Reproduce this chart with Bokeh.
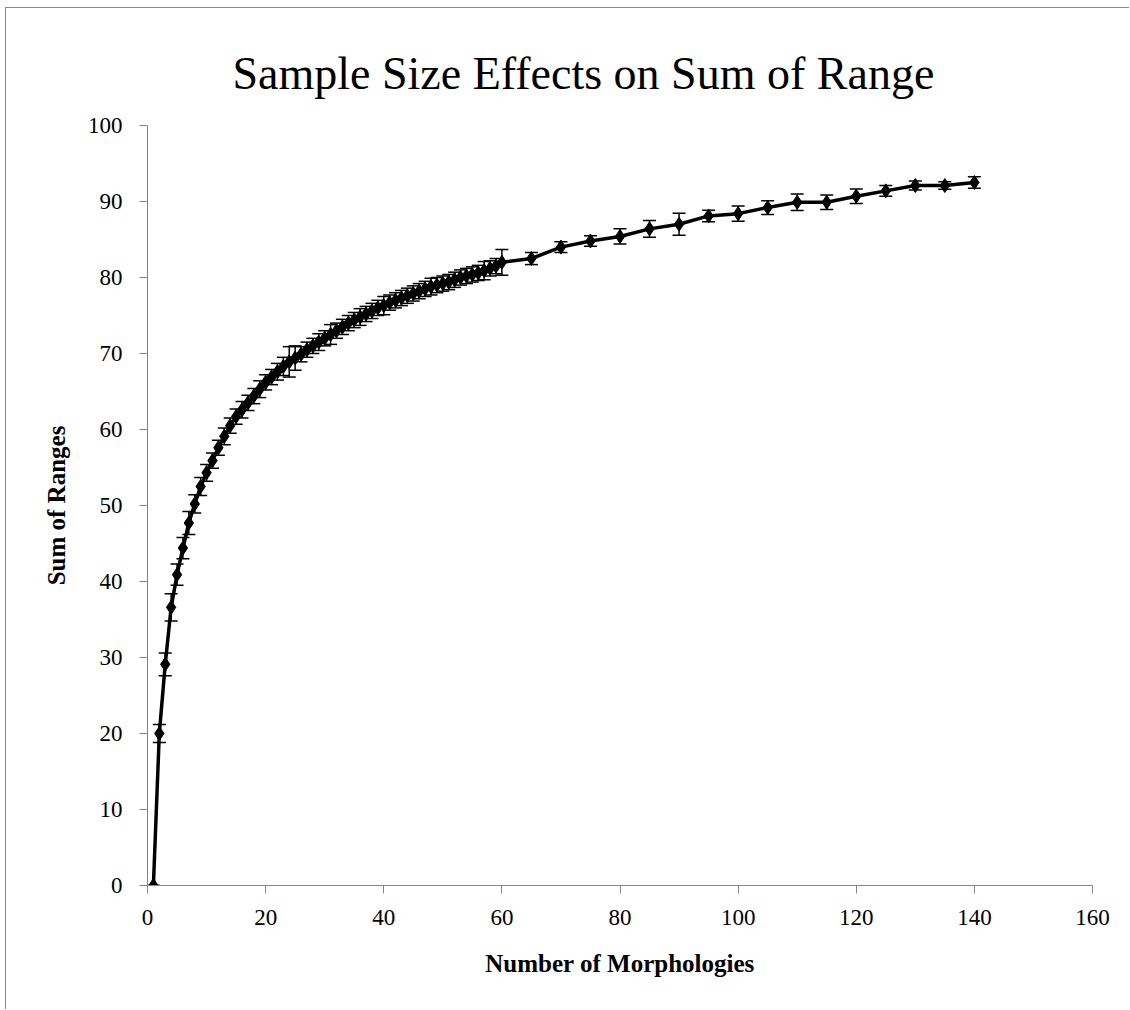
from bokeh.plotting import figure
from bokeh.models import ColumnDataSource, Whisker, Range1d, FixedTicker, TeeHead
from bokeh.embed import file_html
from bokeh.resources import INLINE

morphologies = list(range(1, 61)) + [65, 70, 75, 80, 85, 90, 95, 100, 105, 110, 115, 120, 125, 130, 135, 140]
sum_of_ranges = [
    0.0, 20.0, 29.1, 36.6, 40.9, 44.4, 47.7, 50.2, 52.5, 54.3,
    55.9, 57.6, 59.1, 60.5, 61.7, 62.6, 63.5, 64.4, 65.3, 66.2,
    66.9, 67.6, 68.3, 68.9, 69.4, 69.9, 70.5, 71.0, 71.5, 72.0,
    72.5, 73.0, 73.5, 74.0, 74.4, 74.8, 75.2, 75.6, 76.0, 76.3,
    76.7, 77.0, 77.3, 77.6, 77.9, 78.2, 78.5, 78.8, 79.0, 79.2,
    79.4, 79.7, 80.0, 80.2, 80.4, 80.6, 80.9, 81.2, 81.5, 82.0,
    82.5, 84.0, 84.8, 85.4, 86.4, 87.0, 88.1, 88.4, 89.2, 89.9,
    89.9, 90.7, 91.4, 92.1, 92.1, 92.5,
]
errors = [
    0.0, 1.2, 1.5, 1.8, 1.4, 1.4, 1.5, 1.2, 1.2, 1.1,
    1.0, 1.0, 1.1, 1.0, 1.0, 1.1, 1.0, 1.0, 1.1, 1.0,
    1.0, 1.1, 1.2, 2.0, 1.6, 1.0, 1.0, 1.0, 1.1, 1.0,
    1.3, 1.0, 1.0, 1.0, 1.0, 1.1, 1.0, 1.0, 1.0, 1.2,
    1.0, 1.0, 1.0, 1.0, 1.0, 1.0, 1.0, 1.1, 1.0, 1.0,
    1.0, 1.0, 1.0, 1.0, 1.0, 1.0, 1.2, 1.0, 1.0, 1.7,
    0.8, 0.7, 0.7, 1.0, 1.1, 1.45, 0.75, 1.0, 0.9, 1.1,
    0.95, 0.95, 0.7, 0.6, 0.5, 0.75,
]
x_ticks = [0, 20, 40, 60, 80, 100, 120, 140, 160]
y_ticks = [0, 10, 20, 30, 40, 50, 60, 70, 80, 90, 100]

title_text = "Sample Size Effects on Sum of Range"
x_label = "Number of Morphologies"
y_label = "Sum of Ranges"

upper = [v + e for v, e in zip(sum_of_ranges, errors)]
lower = [v - e for v, e in zip(sum_of_ranges, errors)]
src = ColumnDataSource(dict(x=morphologies, y=sum_of_ranges, upper=upper, lower=lower))

SERIF = "Liberation Serif"
AXIS_COLOR = "#868686"

p = figure(width=1124, height=1002, output_backend="svg", toolbar_location=None,
           x_range=Range1d(0, 160), y_range=Range1d(0, 100),
           min_border_left=141, min_border_right=38, min_border_top=117, min_border_bottom=125)
p.styles = {"margin-left": "5px", "margin-top": "7px",
            "border-left": "1px solid #8a8a8a", "border-top": "1px solid #8a8a8a"}

p.title.text = title_text
p.title.text_font = SERIF
p.title.text_font_size = "46px"
p.title.text_font_style = "normal"
p.title.text_color = "#000000"
p.title.align = "left"
p.title.offset = 85
p.title.standoff = 53

p.outline_line_color = None
p.grid.grid_line_color = None

for ax in (p.xaxis[0], p.yaxis[0]):
    ax.axis_line_color = AXIS_COLOR
    ax.major_tick_line_color = AXIS_COLOR
    ax.minor_tick_line_color = None
    ax.major_tick_out = 8
    ax.major_tick_in = 0
    ax.major_label_text_font = SERIF
    ax.major_label_text_font_size = "23px"
    ax.major_label_text_color = "#000000"
    ax.axis_label_text_font = SERIF
    ax.axis_label_text_font_style = "bold"
    ax.axis_label_text_color = "#000000"

p.xaxis.ticker = FixedTicker(ticks=x_ticks)
p.yaxis.ticker = FixedTicker(ticks=y_ticks)
p.xaxis.axis_label = x_label
p.yaxis.axis_label = y_label
p.xaxis.axis_label_text_font_size = "25px"
p.yaxis.axis_label_text_font_size = "25px"
p.xaxis.major_label_standoff = 16
p.yaxis.major_label_standoff = 17
p.xaxis.axis_label_standoff = 22
p.yaxis.axis_label_standoff = 15

p.add_layout(Whisker(source=src, base="x", upper="upper", lower="lower",
                     line_color="black", line_width=1.5,
                     upper_head=TeeHead(size=13, line_color="black", line_width=1.5),
                     lower_head=TeeHead(size=13, line_color="black", line_width=1.5)))
p.line("x", "y", source=src, line_color="black", line_width=3.5)
p.scatter("x", "y", source=src, marker="diamond", size=14, fill_color="black", line_color="black")

open("out.html", "w").write(file_html(p, INLINE))
